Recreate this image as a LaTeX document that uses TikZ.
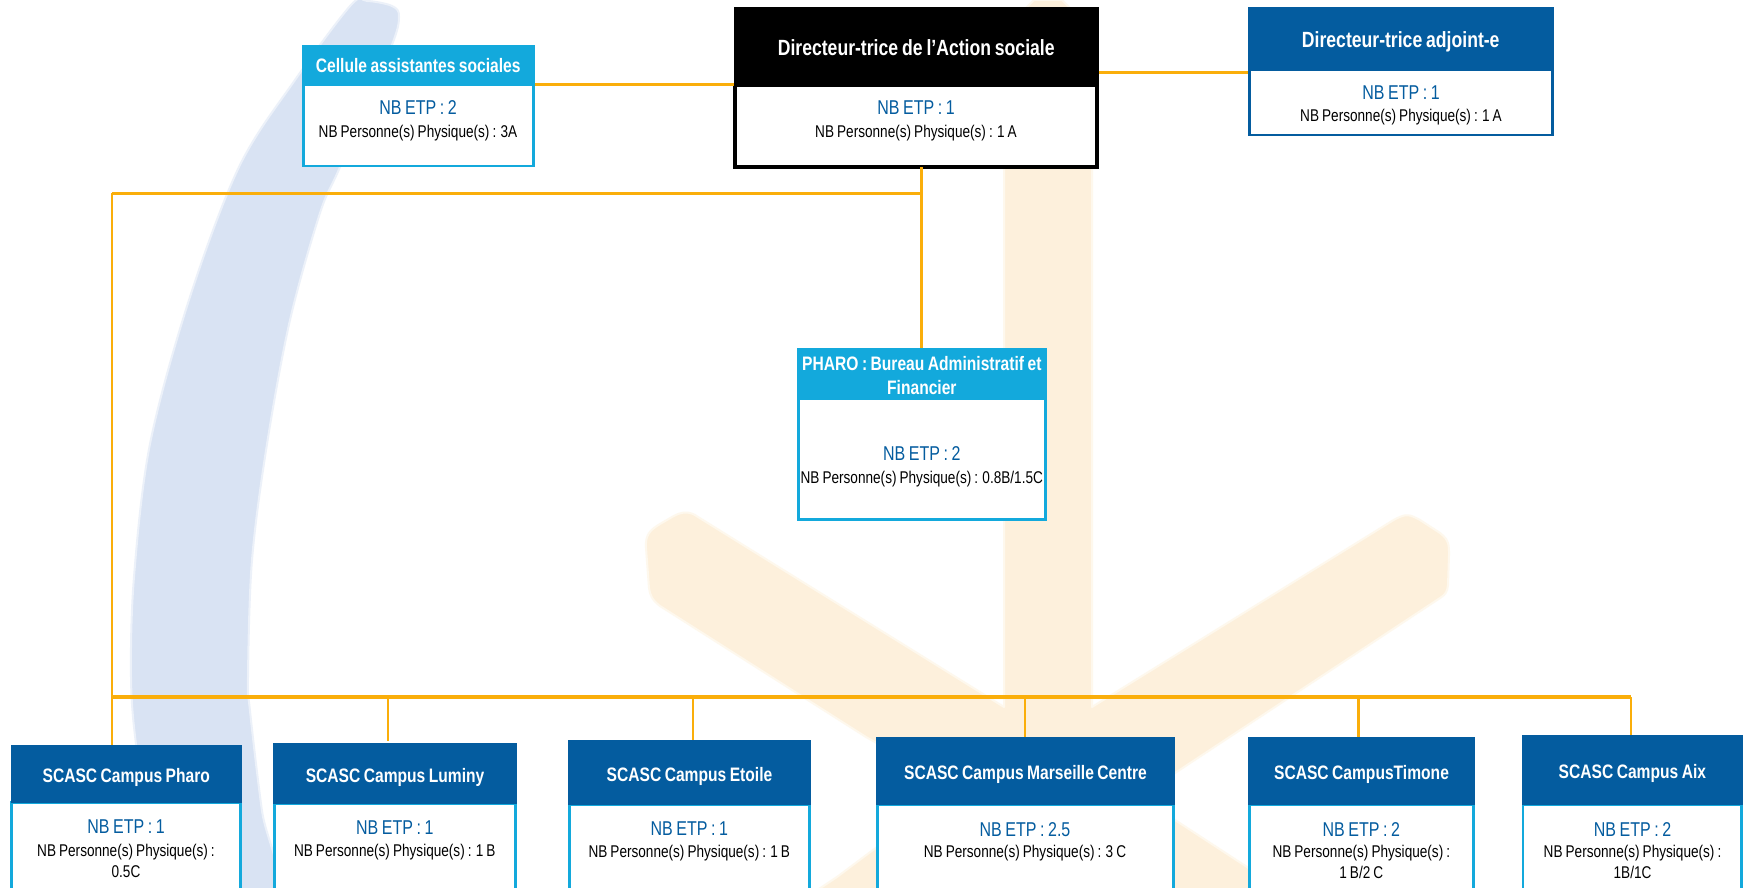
\documentclass[tikz,border=0pt]{standalone}
\usepackage{fontspec}
\setmainfont[FakeStretch=0.8,WordSpace=0.8]{Liberation Sans}
\definecolor{dkblue}{HTML}{045C9F}
\definecolor{cyanb}{HTML}{13A9DC}
\definecolor{linkor}{HTML}{FAAE0A}
\definecolor{swoosh}{HTML}{D9E3F3}
\definecolor{starc}{HTML}{FDF0DC}
\tikzset{
  hdrtext/.style={font=\fontsize{19.5}{24}\selectfont\bfseries,text=white,align=center,inner sep=0pt,outer sep=0pt,text height=18pt,text depth=0pt},
  hdrbig/.style={hdrtext,font=\fontsize{22}{26}\selectfont\bfseries},
  hdrdark/.style={hdrtext,fill=dkblue,draw=none},
  hdrcyan/.style={hdrtext,fill=cyanb,draw=none},
  hdrblack/.style={hdrbig,fill=black,draw=none},
  hdrblue/.style={hdrbig,fill=dkblue,draw=none},
  bodycyan/.style={fill=white,draw=cyanb,line width=2.8pt,inner sep=0pt,outer sep=0pt},
  bodyblue/.style={fill=white,draw=dkblue,line width=2.8pt,inner sep=0pt,outer sep=0pt},
  bodyblack/.style={fill=white,draw=black,line width=4pt,inner sep=0pt,outer sep=0pt},
  etptext/.style={font=\fontsize{20}{24}\selectfont,text=dkblue,inner sep=0pt,text height=14.3pt,text depth=0pt},
  perstext/.style={font=\fontsize{17}{21}\selectfont,text=black,inner sep=0pt,align=center,anchor=north},
  linkthick/.style={draw=linkor,line width=3.4pt},
  linkthin/.style={draw=linkor,line width=2.8pt},
}
% name, x0, x1, y0, yh, y1, header style, body style, header text
\newcommand\orgbox[9]{%
  \node[#8,anchor=north,minimum width={#3-#2-2.6pt},minimum height={#6-#5}] (#1b) at ({(#2+#3)/2},#5) {};
  \node[#7,anchor=north,minimum width={#3-#2},minimum height={#5-#4}] (#1h) at ({(#2+#3)/2},#4) {#9};
}
% name, x, y of NB ETP centre, y of the next line centre, ETP text, persons text
\newcommand\orgnb[6]{%
  \node[etptext] (#1e) at (#2,#3) {#5};
  \node[perstext] (#1p) at (#2,#4-6.5) {#6};
}
\begin{document}
\begin{tikzpicture}[x=1pt,y=-1pt]
\useasboundingbox (0,0) rectangle (1745,888);
\clip (0,0) rectangle (1745,888);
% watermark
\fill[white] (0,0) rectangle (1745,888);
\path[fill=swoosh,draw=swoosh!50!white,line width=2pt] plot[smooth cycle,tension=0.55] coordinates {
  (367,1) (392,6) (399,17) (390,50) (340,167) (320,213) (290,320) (267,444) (252,560)
  (248,677) (250,711) (262,811) (275,888) (190,888) (150,830) (136,744) (131,677) (134,577)
  (150,444) (189,300) (239,167) (295,80) (351,5)};
\path[fill=starc,draw=starc!50!white,line width=2pt,line join=round]
  (1034,0) -- (1062,0) -- (1092,30) -- (1092,707) -- (1392,521)
  .. controls (1407,512) and (1410,515) .. (1420,520) -- (1440,533)
  .. controls (1449,540) and (1449,545) .. (1449,555) -- (1448,585)
  .. controls (1447,592) and (1446,594) .. (1440,598)
  -- (1175,773) -- (1120,812) -- (1175,820) -- (1247,867) -- (1290,895)
  -- (810,895) -- (837,877) -- (873,850) -- (960,790) -- (866,737) -- (660,606)
  .. controls (652,600) and (650,595) .. (649,588) -- (646,548)
  .. controls (645,535) and (650,530) .. (660,524) -- (672,517)
  .. controls (682,511) and (690,511) .. (698,517)
  -- (1004,707) -- (1004,30) -- cycle;
% boxes
\orgbox{cel}{302}{534.5}{45.5}{85}{166}{hdrcyan,text height=15pt}{bodycyan}{Cellule assistantes sociales}
\orgbox{dir}{734}{1098.5}{7}{85.5}{167}{hdrblack}{bodyblack}{Directeur-trice de l’Action sociale}
\orgbox{adj}{1248}{1553.5}{7.5}{70}{135}{hdrblue}{bodyblue}{Directeur-trice adjoint-e}
\orgbox{pha}{797}{1046.7}{348}{399}{519.5}{hdrcyan,text height=41pt}{bodycyan}{PHARO : Bureau Administratif et\\Financier}
\orgbox{pro}{10.5}{242}{745}{802.5}{900}{hdrdark}{bodycyan}{SCASC Campus Pharo}
\orgbox{lum}{273.4}{516.7}{743.3}{803.5}{900}{hdrdark}{bodycyan}{SCASC Campus Luminy}
\orgbox{eto}{568}{811}{740}{804.5}{900}{hdrdark}{bodycyan}{SCASC Campus Etoile}
\orgbox{mar}{876}{1175}{737}{804.5}{900}{hdrdark}{bodycyan}{SCASC Campus Marseille Centre}
\orgbox{tim}{1248}{1475}{737}{804.5}{900}{hdrdark}{bodycyan}{SCASC CampusTimone}
\orgbox{aix}{1521.7}{1743}{735.3}{804.5}{900}{hdrdark}{bodycyan}{SCASC Campus Aix}
% counts
\orgnb{cel}{418}{107.7}{131}{NB ETP : 2}{NB Personne(s) Physique(s) : 3A}
\orgnb{dir}{916}{107.7}{131}{NB ETP : 1}{NB Personne(s) Physique(s) : 1 A}
\orgnb{adj}{1401}{92}{115.7}{NB ETP : 1}{NB Personne(s) Physique(s) : 1 A}
\orgnb{pha}{921.8}{453}{477}{NB ETP : 2}{NB Personne(s) Physique(s) : 0.8B/1.5C}
\orgnb{pro}{126}{826.7}{850}{NB ETP : 1}{NB Personne(s) Physique(s) :\\0.5C}
\orgnb{lum}{394.8}{827.3}{850.7}{NB ETP : 1}{NB Personne(s) Physique(s) : 1 B}
\orgnb{eto}{689.3}{828}{851.7}{NB ETP : 1}{NB Personne(s) Physique(s) : 1 B}
\orgnb{mar}{1025}{829}{851.7}{NB ETP : 2.5}{NB Personne(s) Physique(s) : 3 C}
\orgnb{tim}{1361.3}{829}{851.7}{NB ETP : 2}{NB Personne(s) Physique(s) :\\1 B/2 C}
\orgnb{aix}{1632.5}{829}{851.7}{NB ETP : 2}{NB Personne(s) Physique(s) :\\1B/1C}
% connectors
\coordinate (trunk) at (921.4,193.3);
\coordinate (left) at (112,193.3);
\coordinate (bus0) at (112,697);
\coordinate (bus1) at (388,697);
\coordinate (bus2) at (693,697);
\coordinate (bus3) at (1025,697);
\coordinate (bus4) at (1358.5,697);
\coordinate (bus5) at (1631,697);
\coordinate (rowa) at (0,84.3);
\coordinate (rowb) at (0,72.7);
\draw[linkthick] (celh.east |- rowa) -- (dirh.west |- rowa);
\draw[linkthick] (dirh.east |- rowb) -- (adjh.west |- rowb);
\draw[linkthin] (trunk |- dirb.south) -- (trunk |- phah.north);
\draw[linkthick] (left) -- (trunk);
\draw[linkthin] (left) -- (left |- proh.north);
\draw[linkthick] (bus0) -- (bus5);
\draw[linkthin,shorten >=2.5pt] (bus1) -- (bus1 |- lumh.north);
\draw[linkthin] (bus2) -- (bus2 |- etoh.north);
\draw[linkthin] (bus3) -- (bus3 |- marh.north);
\draw[linkthin] (bus4) -- (bus4 |- timh.north);
\draw[linkthin] (bus5) -- (bus5 |- aixh.north);
\end{tikzpicture}
\end{document}
